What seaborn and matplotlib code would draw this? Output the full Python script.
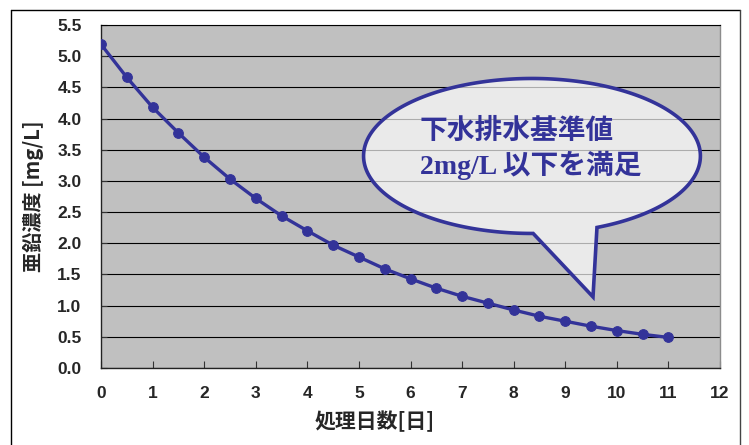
import numpy as np
import pandas as pd
import matplotlib
matplotlib.use("Agg")
import matplotlib.pyplot as plt
import seaborn as sns
from matplotlib.patches import Polygon
from matplotlib.lines import Line2D

days = [0, 0.5, 1, 1.5, 2, 2.5, 3, 3.5, 4, 4.5, 5, 5.5, 6, 6.5, 7, 7.5, 8, 8.5, 9, 9.5, 10, 10.5, 11]
zinc = [5.19, 4.66, 4.18, 3.77, 3.38, 3.03, 2.72, 2.44, 2.20, 1.97, 1.78, 1.59, 1.43, 1.28,
        1.15, 1.04, 0.93, 0.83, 0.75, 0.67, 0.60, 0.54, 0.49]
xticks = list(range(0, 13))
yticks = [0.0, 0.5, 1.0, 1.5, 2.0, 2.5, 3.0, 3.5, 4.0, 4.5, 5.0, 5.5]
xlabel = "処理日数[日]"
ylabel = "亜鉛濃度 [mg/L]"
bubble_line1 = "下水排水基準値"
bubble_line2 = "2mg/L 以下を満足"

sns.set_theme(style="white")
plt.rcParams['font.family'] = ['Liberation Sans', 'Noto Sans CJK JP', 'DejaVu Sans']

NAVY = "#333399"
df = pd.DataFrame({"day": days, "zinc": zinc})

fig = plt.figure(figsize=(7.49, 4.45), dpi=100)
ax = fig.add_axes([101/749, 1-368/445, (720-101)/749, (368-25)/445])
ax.set_facecolor("#C0C0C0")

sns.lineplot(data=df, x="day", y="zinc", ax=ax, color=NAVY, lw=2.4,
             marker="o", markersize=7, markeredgecolor=NAVY, markerfacecolor=NAVY, zorder=5)

ax.set_xlim(0, 12)
ax.set_ylim(0, 5.5)
ax.set_xticks(xticks)
ax.set_yticks(yticks)
ax.set_xticklabels([str(v) for v in xticks], fontsize=12.5, fontweight="bold")
ax.set_yticklabels([f"{v:.1f}" for v in yticks], fontsize=12.5, fontweight="bold")
ax.yaxis.grid(True, color="black", lw=0.8)
ax.xaxis.grid(False)
ax.set_axisbelow(True)
ax.tick_params(axis="both", direction="in", length=5, width=0.8, color="#333333")
ax.tick_params(axis="y", left=True, length=4, pad=14)
ax.tick_params(axis="x", bottom=True, pad=13)

for s in ["left", "bottom"]:
    ax.spines[s].set_color("#222222")
    ax.spines[s].set_linewidth(1.0)
ax.spines["top"].set_color("black")
ax.spines["top"].set_linewidth(0.8)
ax.spines["right"].set_color("#8C8C8C")
ax.spines["right"].set_linewidth(1.0)

ax.set_xlabel(xlabel, fontsize=15, fontweight="bold", family=['Noto Sans CJK JP'])
ax.set_ylabel(ylabel, fontsize=14.5, fontweight="bold", family=['Noto Sans CJK JP'])
ax.xaxis.set_label_coords((375-101)/619, (368-411)/343)
ax.yaxis.set_label_coords((44-101)/619, 0.5)

# speech bubble
cx, cy, a, b = 8.355, 3.40, 3.265, 1.2425
t = np.radians(np.linspace(-67.3, 270.4, 300))
pts = np.column_stack([cx + a*np.cos(t), cy + b*np.sin(t)])
tip = np.array([[9.538, 1.14]])
pts = np.vstack([pts, tip])
bubble = Polygon(pts, closed=True, facecolor=(1, 1, 1, 0.68), edgecolor=NAVY, lw=2.6, zorder=3,
                 joinstyle="miter")
ax.add_patch(bubble)

ax.text(6.18, 3.80, bubble_line1, fontsize=20, fontweight="bold", color=NAVY,
        ha="left", va="center", family=['Noto Sans CJK JP'], zorder=6)
ax.text(6.18, 3.25, bubble_line2, fontsize=20, fontweight="bold", color=NAVY,
        ha="left", va="center", family=['Liberation Serif', 'Noto Sans CJK JP'], zorder=6)

# figure frame
x0, x1, yt = 11/749, 740/749, 1-10/445
fig.add_artist(Line2D([x0, x0], [0, yt], transform=fig.transFigure, color="black", lw=1.0))
fig.add_artist(Line2D([x0, x1], [yt, yt], transform=fig.transFigure, color="black", lw=1.0))
fig.add_artist(Line2D([x1, x1], [0, yt], transform=fig.transFigure, color="#444444", lw=1.0))

fig.savefig("out.png", dpi=100)
